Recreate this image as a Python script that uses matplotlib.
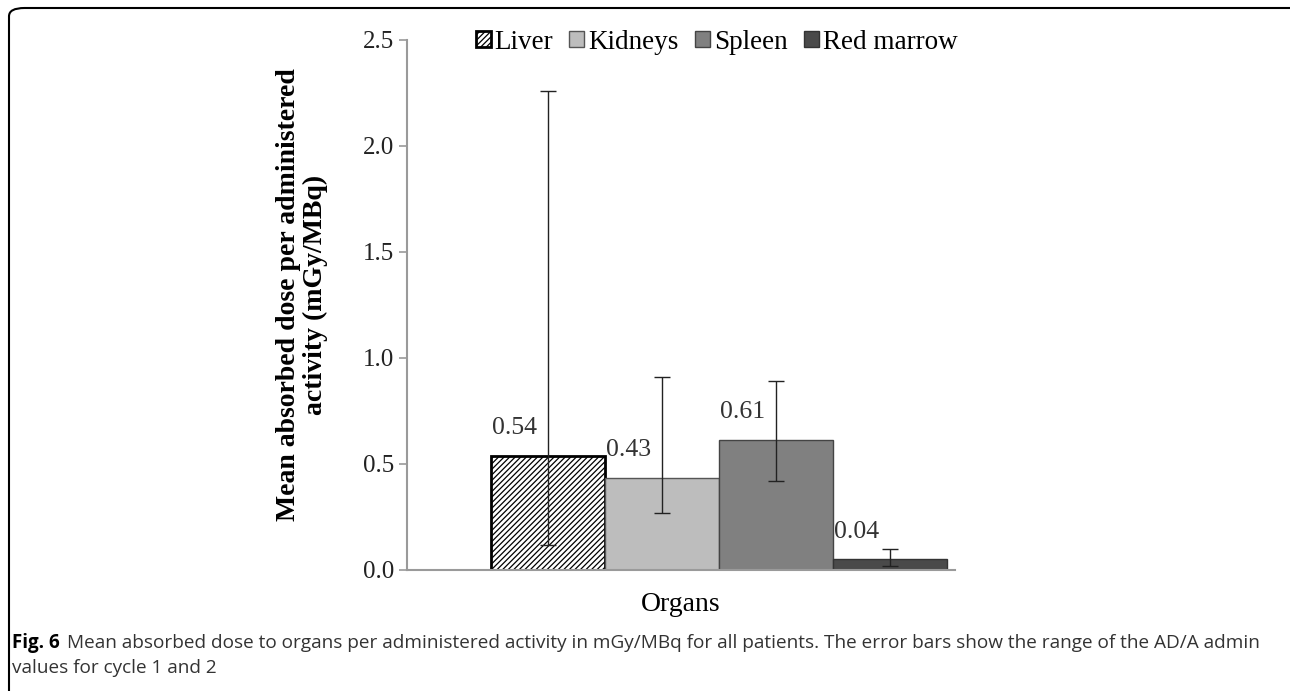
import matplotlib.pyplot as plt
from matplotlib.patches import FancyBboxPatch

# Data
organs = ["Liver", "Kidneys", "Spleen", "Red marrow"]
mean_dose = [0.54, 0.43, 0.61, 0.04]
bar_height = [0.54, 0.435, 0.615, 0.05]
err_low = [0.12, 0.27, 0.42, 0.02]
err_high = [2.26, 0.91, 0.89, 0.10]
colors = ["white", "#bdbdbd", "#808080", "#4a4a4a"]
hatches = ["//////", None, None, None]
edgecolors = ["black", "#555555", "#444444", "#333333"]

plt.rcParams['font.family'] = ['Liberation Serif', 'DejaVu Serif']
plt.rcParams['hatch.linewidth'] = 0.9

fig = plt.figure(figsize=(12.9, 6.91), dpi=100)
ax = fig.add_axes([407 / 1290, 1 - 570 / 691, 548 / 1290, 530 / 691])

xs = list(range(len(organs)))
for i in xs:
    ax.bar(i, bar_height[i], width=1.0, color=colors[i], hatch=hatches[i],
           edgecolor=edgecolors[i], linewidth=2.0 if i == 0 else 1.0,
           label=organs[i], zorder=2)
    yerr = [[bar_height[i] - err_low[i]], [err_high[i] - bar_height[i]]]
    ax.errorbar(i, bar_height[i], yerr=yerr, fmt="none", ecolor="#222222",
                elinewidth=1.0, capsize=6, capthick=1.0, zorder=3)
    ax.annotate(f"{mean_dose[i]:.2f}", (i - 0.5, bar_height[i]),
                xytext=(1, 20), textcoords="offset points",
                ha="left", va="center", fontsize=18.5, color="#333333")

ax.set_xlim(-1.237, 3.57)
ax.set_ylim(0, 2.5)
ax.set_yticks([0.0, 0.5, 1.0, 1.5, 2.0, 2.5])
ax.set_yticklabels(["0.0", "0.5", "1.0", "1.5", "2.0", "2.5"], fontsize=18, color="#222222")
ax.set_xticks([])
for s in ["top", "right"]:
    ax.spines[s].set_visible(False)
ax.spines["left"].set_color("#9a9a9a")
ax.spines["bottom"].set_color("#9a9a9a")
ax.spines["left"].set_linewidth(1.5)
ax.spines["bottom"].set_linewidth(1.5)
ax.tick_params(axis="y", direction="out", length=6, color="#9a9a9a", width=1.2, pad=3)

ax.set_xlabel("Organs", fontsize=20, labelpad=16)
ax.set_ylabel("Mean absorbed dose per administered\nactivity (mGy/MBq)",
              fontsize=20, fontweight="bold", linespacing=1.05)
ax.yaxis.set_label_coords(-0.145, 0.519)

ax.legend(loc="upper center", bbox_to_anchor=(0.565, 1.04), ncol=4, frameon=False,
          fontsize=19.5, handlelength=0.55, handleheight=0.55, handletextpad=0.15,
          columnspacing=0.6, borderaxespad=0)

# Caption
cap_y1 = 1 - 643 / 691
cap_y2 = 1 - 668 / 691
fig.text(12 / 1290, cap_y1, "Fig. 6", fontsize=13.5, family="Open Sans",
         fontweight="bold", va="center", ha="left")
fig.text(67 / 1290, cap_y1,
         "Mean absorbed dose to organs per administered activity in mGy/MBq for all patients. "
         "The error bars show the range of the AD/A admin",
         fontsize=13.65, family="Open Sans", va="center", ha="left", color="#333333")
fig.text(12 / 1290, cap_y2, "values for cycle 1 and 2",
         fontsize=13.65, family="Open Sans", va="center", ha="left", color="#333333")

# Frame around figure
frame = FancyBboxPatch((9 / 1290, -0.05), 1.2, 1 - 8 / 691 + 0.05,
                       boxstyle="round,pad=0,rounding_size=0.012",
                       transform=fig.transFigure, fill=False,
                       edgecolor="black", linewidth=1.5, clip_on=False)
fig.patches.append(frame)

fig.savefig("out.png", dpi=100)
